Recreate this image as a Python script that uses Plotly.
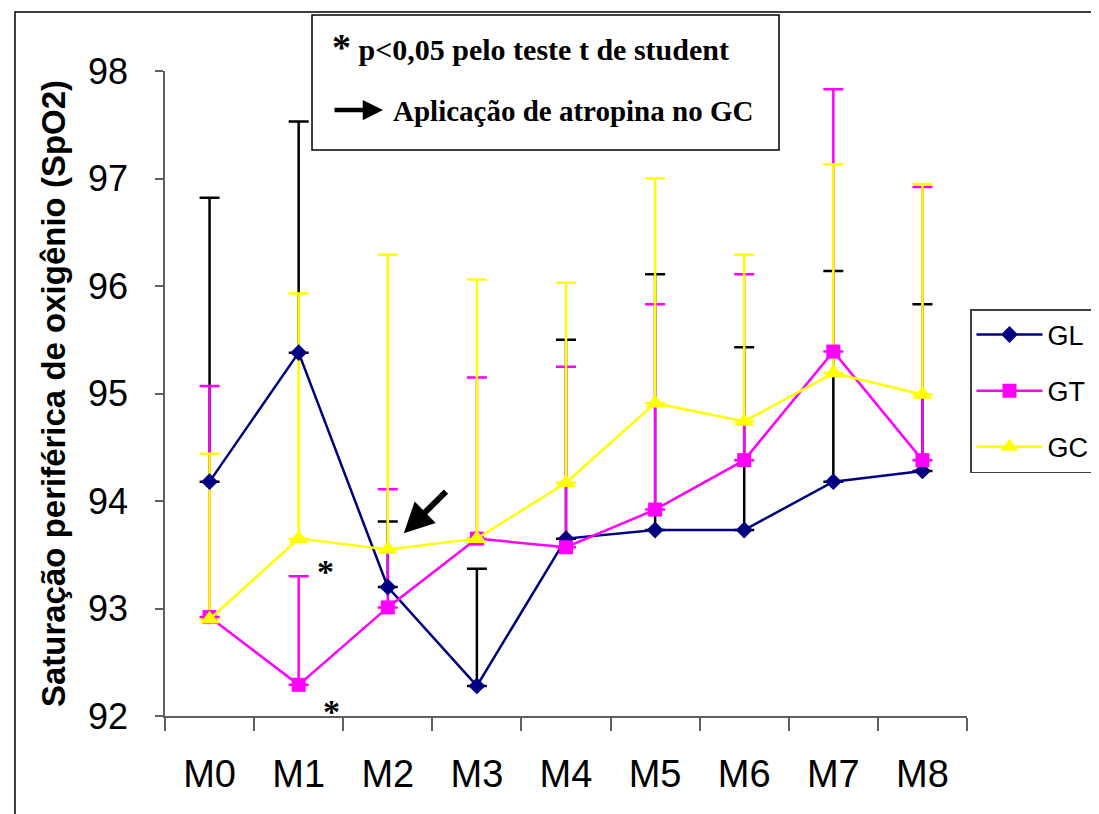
import plotly.graph_objects as go

# ---------------- data ----------------
categories = ["M0", "M1", "M2", "M3", "M4", "M5", "M6", "M7", "M8"]

gl_mean = [94.18, 95.38, 93.20, 92.28, 93.65, 93.73, 93.73, 94.18, 94.28]
gl_sd = [2.64, 2.15, 0.61, 1.09, 1.85, 2.38, 1.70, 1.96, 1.55]

gt_mean = [92.92, 92.29, 93.01, 93.65, 93.57, 93.92, 94.38, 95.39, 94.38]
gt_sd = [2.15, 1.01, 1.10, 1.50, 1.68, 1.91, 1.73, 2.44, 2.54]

gc_mean = [92.90, 93.65, 93.55, 93.65, 94.17, 94.91, 94.74, 95.19, 94.99]
gc_sd = [1.54, 2.28, 2.74, 2.41, 1.86, 2.09, 1.55, 1.94, 1.96]

y_ticks = [92, 93, 94, 95, 96, 97, 98]
series_names = ["GL", "GT", "GC"]

# significance markers (category index, value) and atropine arrow
star_points = [(1.30, 93.34), (1.37, 92.04)]
arrow_head = (2.18, 93.70)
arrow_tail = (2.67, 94.10)

# ---------------- layout helpers ----------------
OFF = 8  # page body margin of the browser
L, R, T, B = 165, 967, 71, 716   # plot area in screen pixels
W, H = R - L, B - T


def px(xp):
    return (xp - L) / W


def py(yp):
    return 1 - (yp - T) / H


line_colors = ["#000080", "#FF00FF", "#FFFF00"]
err_colors = ["#000000", "#FF00FF", "#FFFF00"]
symbols = ["diamond", "square", "triangle-up"]
msizes = [13, 14, 17]
means = [gl_mean, gt_mean, gc_mean]
sds = [gl_sd, gt_sd, gc_sd]

fig = go.Figure()

# error bars first (drawn beneath all lines/markers)
for m, s, c in zip(means, sds, err_colors):
    fig.add_trace(go.Scatter(
        x=categories, y=m, mode="markers",
        marker=dict(size=2, color="rgba(0,0,0,0)"),
        error_y=dict(type="data", array=s, arrayminus=[0] * len(s),
                     symmetric=False, color=c, thickness=2.5, width=10),
        showlegend=False, hoverinfo="skip",
    ))

for name, m, lc, sym, ms in zip(series_names, means, line_colors, symbols, msizes):
    fig.add_trace(go.Scatter(
        x=categories, y=m, mode="lines+markers", name=name,
        legendgroup=name,
        line=dict(color=lc, width=2.5),
        marker=dict(symbol=sym, size=ms, color=lc, line=dict(width=0)),
    ))

annotations = [
    dict(xref="paper", yref="paper", x=px(330), y=py(47), xanchor="left", yanchor="middle",
         text="<span style='font-size:38px'>*</span> p&lt;0,05 pelo teste t de student",
         showarrow=False,
         font=dict(family="Liberation Serif", size=30, color="black", weight="bold")),
    dict(xref="paper", yref="paper", x=px(391), y=py(111), xanchor="left", yanchor="middle",
         text="Aplicação de atropina no GC", showarrow=False,
         font=dict(family="Liberation Serif", size=29, color="black", weight="bold")),
    dict(xref="paper", yref="paper", x=px(383), y=py(110), ax=-50, ay=0, text="",
         showarrow=True, arrowhead=2, arrowsize=0.9, arrowwidth=4.5, arrowcolor="black"),
    dict(xref="x", yref="y", axref="x", ayref="y",
         x=arrow_head[0], y=arrow_head[1], ax=arrow_tail[0], ay=arrow_tail[1], text="",
         showarrow=True, arrowhead=2, arrowsize=1.0, arrowwidth=6, arrowcolor="black"),
]
for sx, sy in star_points:
    annotations.append(dict(xref="x", yref="y", x=sx, y=sy, text="*", showarrow=False,
                            font=dict(family="Liberation Serif", size=34, color="black",
                                      weight="bold")))

shapes = [
    dict(type="rect", xref="paper", yref="paper", x0=px(15), x1=px(1300),
         y0=py(1000), y1=py(12), line=dict(color="black", width=1.5), layer="below"),
    dict(type="rect", xref="paper", yref="paper", x0=px(312), x1=px(779),
         y0=py(150), y1=py(15), line=dict(color="black", width=1.5),
         fillcolor="white", layer="above"),
]

fig.update_layout(
    width=1099, height=814,
    margin=dict(l=L - OFF, r=1099 - (R - OFF), t=T - OFF, b=814 - (B - OFF),
                autoexpand=False),
    paper_bgcolor="white", plot_bgcolor="white",
    font=dict(family="Liberation Sans", color="black"),
    showlegend=True,
    legend=dict(x=px(970), y=py(309), xanchor="left", yanchor="top",
                bgcolor="white", bordercolor="#404040", borderwidth=1.5,
                font=dict(family="Liberation Sans", size=27, color="black"),
                tracegroupgap=18, itemwidth=66),
    annotations=annotations,
    shapes=shapes,
    xaxis=dict(type="category", range=[-0.5, 8.5], tickson="boundaries",
               ticks="outside", ticklen=13, tickwidth=1.5, tickcolor="#606060",
               showline=True, linecolor="#606060", linewidth=1.5,
               showgrid=False, zeroline=False,
               tickfont=dict(family="Liberation Sans", size=38, color="black"),
               ticklabelstandoff=24),
    yaxis=dict(range=[92, 98], tickvals=y_ticks, ticks="outside", ticklen=8,
               tickwidth=1.5, tickcolor="#606060", showline=True,
               linecolor="#606060", linewidth=1.5, showgrid=False, zeroline=False,
               tickfont=dict(family="Liberation Sans", size=36, color="black"),
               ticklabelstandoff=20,
               title=dict(text="Saturação periférica de oxigênio (SpO2)", standoff=12,
                          font=dict(family="Liberation Sans", size=33, color="black",
                                    weight="bold"))),
)

fig.write_html("out.html")
